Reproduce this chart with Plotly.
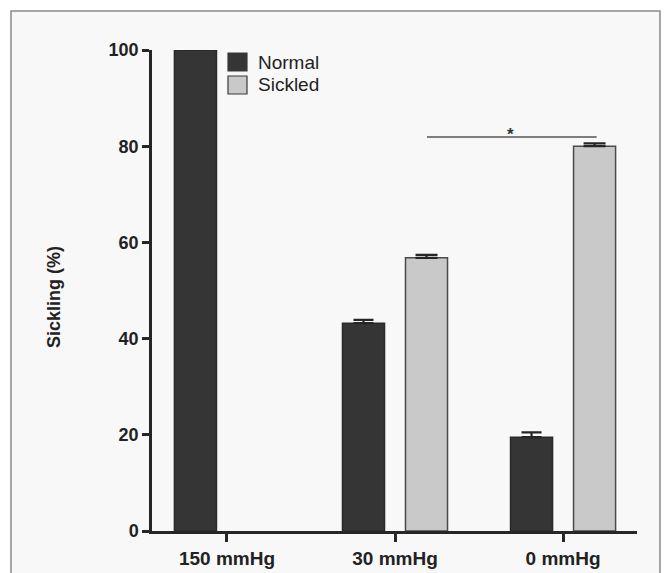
import plotly.graph_objects as go

categories = ["150 mmHg", "30 mmHg", "0 mmHg"]
normal_vals = [100, 43.2, 19.5]
normal_err = [0, 0.7, 1.0]
sickled_vals = [None, 56.8, 80.0]
sickled_err = [0, 0.6, 0.6]
y_ticks = [0, 20, 40, 60, 80, 100]
series_names = ["Normal", "Sickled"]
series_colors = ["#353535", "#c9c9c9"]

font_fam = "Liberation Sans, Arial, sans-serif"
axis_col = "#262626"

# plot area geometry in px
L, R, T, B = 152, 30, 50, 42
W, H = 667, 573
pw, ph = W - L - R, H - T - B


def px_x(px):
    return (px - L) / pw


def px_y(py):
    return (H - B - py) / ph


fig = go.Figure()
fig.add_trace(go.Bar(
    name=series_names[0], x=categories, y=normal_vals,
    marker=dict(color=series_colors[0], line=dict(color="#2a2a2a", width=1.5)),
    error_y=dict(type="data", array=normal_err, arrayminus=[0, 0, 0], symmetric=False,
                 color=axis_col, thickness=2.2, width=10),
))
fig.add_trace(go.Bar(
    name=series_names[1], x=categories, y=sickled_vals,
    marker=dict(color=series_colors[1], line=dict(color="#4a4a4a", width=1.5)),
    error_y=dict(type="data", array=sickled_err, arrayminus=[0, 0, 0], symmetric=False,
                 color=axis_col, thickness=2.2, width=11),
))

# significance line and star
fig.add_shape(type="line", xref="x", yref="y", x0=1.19, x1=2.2, y0=81.9, y1=81.9,
              line=dict(color="#555555", width=1.5))
fig.add_annotation(x=1.69, y=81.9, xref="x", yref="y", text="<b>*</b>", showarrow=False,
                   yanchor="middle", yshift=3, font=dict(family=font_fam, size=17, color="#333"))

# scanned page border + light background
fig.add_shape(type="rect", xref="paper", yref="paper",
              x0=px_x(11), x1=px_x(660), y0=px_y(590), y1=px_y(11),
              line=dict(color="#8a8a8a", width=1.5), fillcolor="#f8f8f8", layer="below")

# legend drawn manually (box + label)
leg_rows = [(53, 71), (76, 94)]
for name, col, (y0, y1) in zip(series_names, series_colors, leg_rows):
    fig.add_shape(type="rect", xref="paper", yref="paper",
                  x0=px_x(228), x1=px_x(247), y0=px_y(y1), y1=px_y(y0),
                  fillcolor=col, line=dict(color="#3a3a3a", width=1.2))
    fig.add_annotation(xref="paper", yref="paper", x=px_x(256), y=px_y((y0 + y1) / 2),
                       text=name, showarrow=False, xanchor="left", yanchor="middle",
                       font=dict(family=font_fam, size=19, color="#222"))

# y-axis title
fig.add_annotation(xref="paper", yref="paper", x=px_x(54), y=px_y(297), text="<b>Sickling (%)</b>",
                   textangle=-90, showarrow=False, xanchor="center", yanchor="middle",
                   font=dict(family=font_fam, size=18, color="#222"))

fig.update_layout(
    width=W, height=H,
    margin=dict(l=L, r=R, t=T, b=B, autoexpand=False),
    paper_bgcolor="#ffffff", plot_bgcolor="rgba(0,0,0,0)",
    barmode="group", bargap=0.25, bargroupgap=0.333,
    showlegend=False,
    font=dict(family=font_fam, color="#222"),
)
fig.update_xaxes(
    range=[-0.446, 2.44], showline=True, linecolor=axis_col, linewidth=2.5,
    ticks="outside", ticklen=8, tickwidth=2.5, tickcolor=axis_col,
    tickfont=dict(family=font_fam, size=19, color="#222", weight="bold"),
    showgrid=False, zeroline=False, automargin=False,
)
fig.update_yaxes(
    range=[0, 100], tickvals=y_ticks, showline=True, linecolor=axis_col, linewidth=2.5,
    ticks="outside", ticklen=7, tickwidth=2.5, tickcolor=axis_col,
    tickfont=dict(family=font_fam, size=18, color="#222", weight="bold"),
    showgrid=False, zeroline=False, automargin=False,
)

fig.write_html("out.html", config={"displayModeBar": False},
               post_script="document.body.style.margin='0px';")
